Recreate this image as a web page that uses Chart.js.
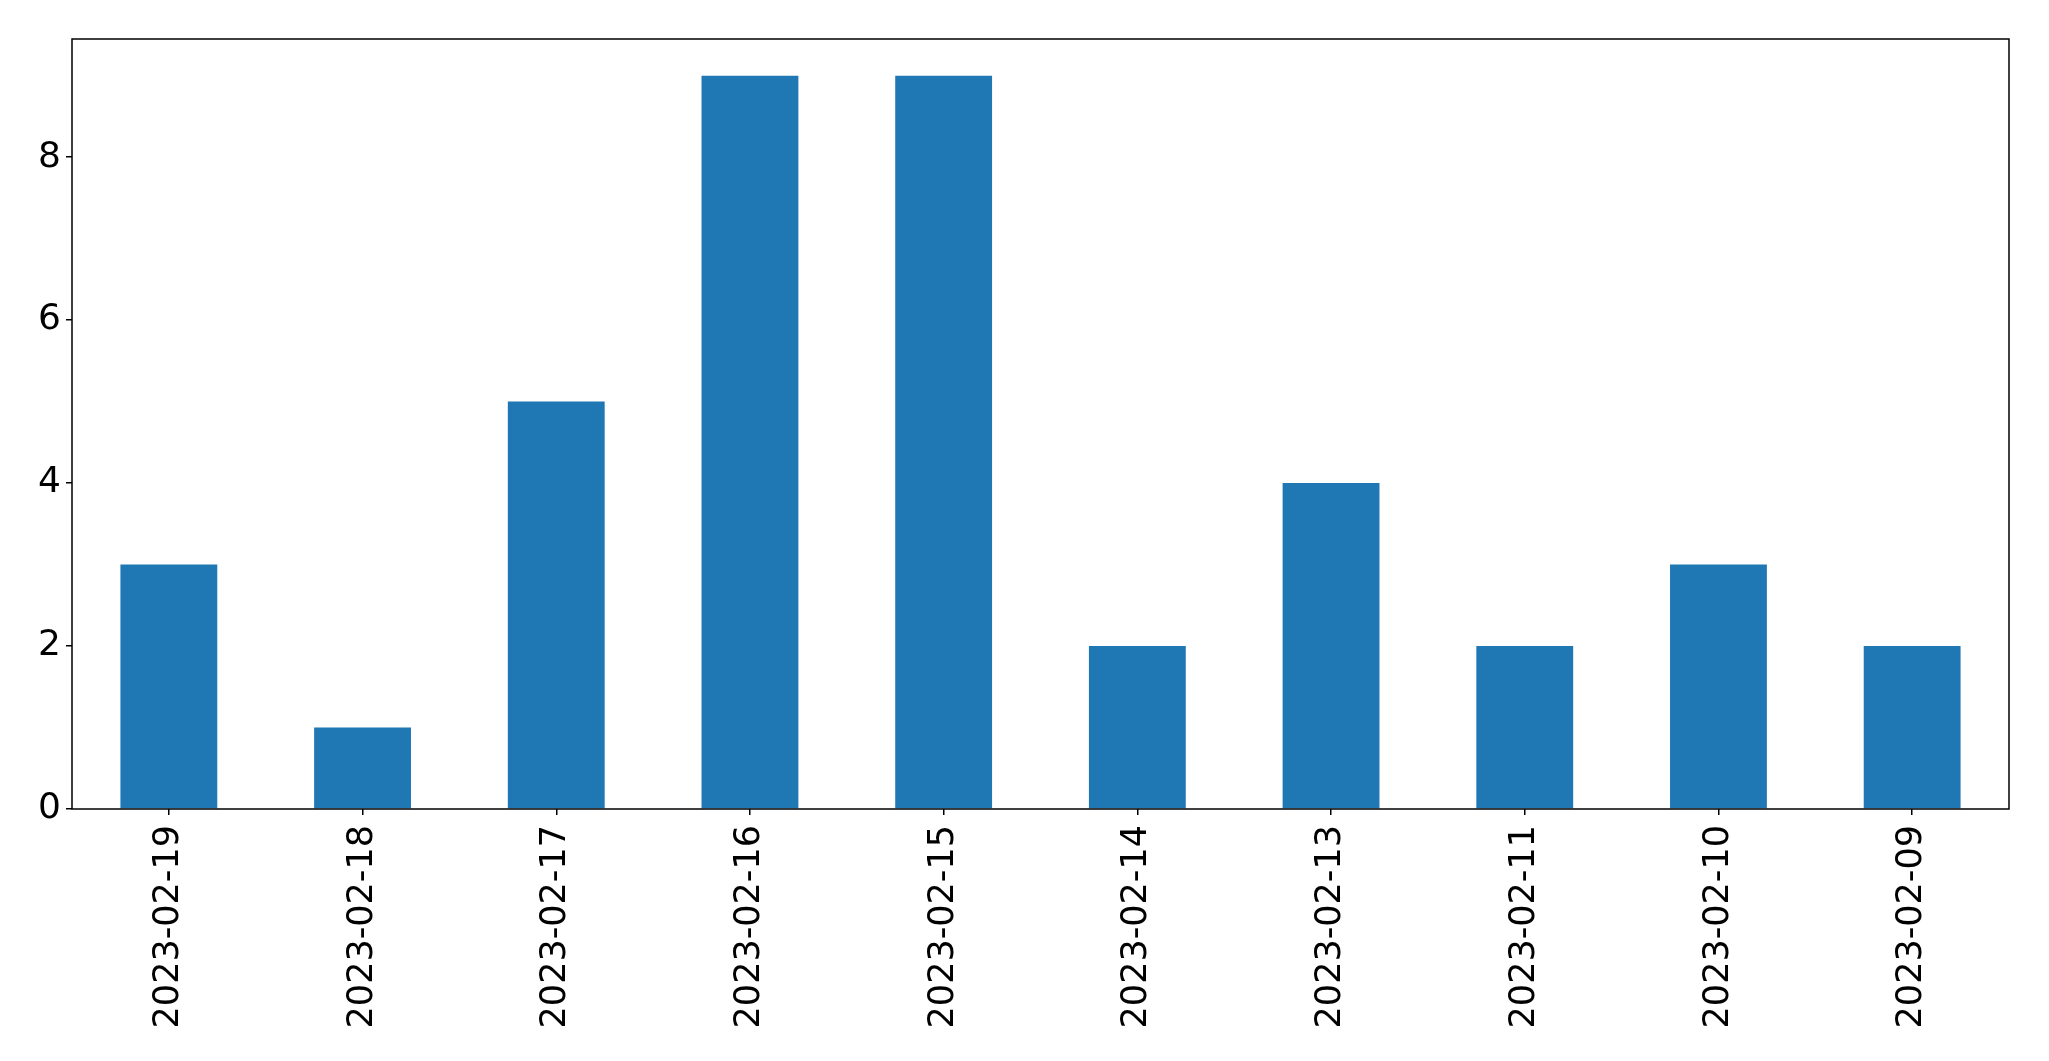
<!DOCTYPE html>
<html>
<head>
<meta charset="utf-8">
<script src="https://cdn.jsdelivr.net/npm/chart.js@4/dist/chart.umd.min.js"></script>
<style>
  html, body { margin: 0; padding: 0; background: #fff; }
  canvas { display: block; }
</style>
</head>
<body>
<canvas id="chart" width="2049" height="1061"></canvas>
<script>
const categories = ['2023-02-19', '2023-02-18', '2023-02-17', '2023-02-16', '2023-02-15',
                    '2023-02-14', '2023-02-13', '2023-02-11', '2023-02-10', '2023-02-09']
const counts = [3, 1, 5, 9, 9, 2, 4, 2, 3, 2]
const yTicks = [0, 2, 4, 6, 8]

// draws the full box around the plot, like matplotlib's spines
const frame = {
  id: 'frame',
  afterDraw(chart) {
    const { ctx, chartArea: a } = chart
    ctx.save()
    ctx.strokeStyle = '#000'
    ctx.lineWidth = 1.5
    ctx.strokeRect(a.left, a.top, a.right - a.left, a.bottom - a.top)
    ctx.restore()
  }
}

new Chart(document.getElementById('chart'), {
  type: 'bar',
  data: {
    labels: categories,
    datasets: [{
      data: counts,
      backgroundColor: '#1f77b4',
      barPercentage: 0.5,
      categoryPercentage: 1
    }]
  },
  options: {
    responsive: false,
    animation: false,
    layout: { padding: { left: 0, right: 40, top: 39, bottom: 0 } },
    plugins: { legend: { display: false }, tooltip: { enabled: false } },
    scales: {
      x: {
        grid: { display: true, offset: false, drawOnChartArea: false, drawTicks: true, tickLength: 6, color: '#000', lineWidth: 1.5 },
        border: { display: false },
        ticks: { color: '#000', font: { family: 'DejaVu Sans', size: 35 }, minRotation: 90, maxRotation: 90, padding: 10 },
        afterFit: (scale) => { scale.height = 252 }
      },
      y: {
        min: 0,
        max: 9.45,
        afterBuildTicks: (scale) => { scale.ticks = yTicks.map(v => ({ value: v })) },
        grid: { display: true, drawOnChartArea: false, drawTicks: true, tickLength: 6, color: '#000', lineWidth: 1.5 },
        border: { display: false },
        ticks: { color: '#000', font: { family: 'DejaVu Sans', size: 36 }, padding: 5 },
        afterFit: (scale) => { scale.width = 72 }
      }
    }
  },
  plugins: [frame]
})
</script>
</body>
</html>
